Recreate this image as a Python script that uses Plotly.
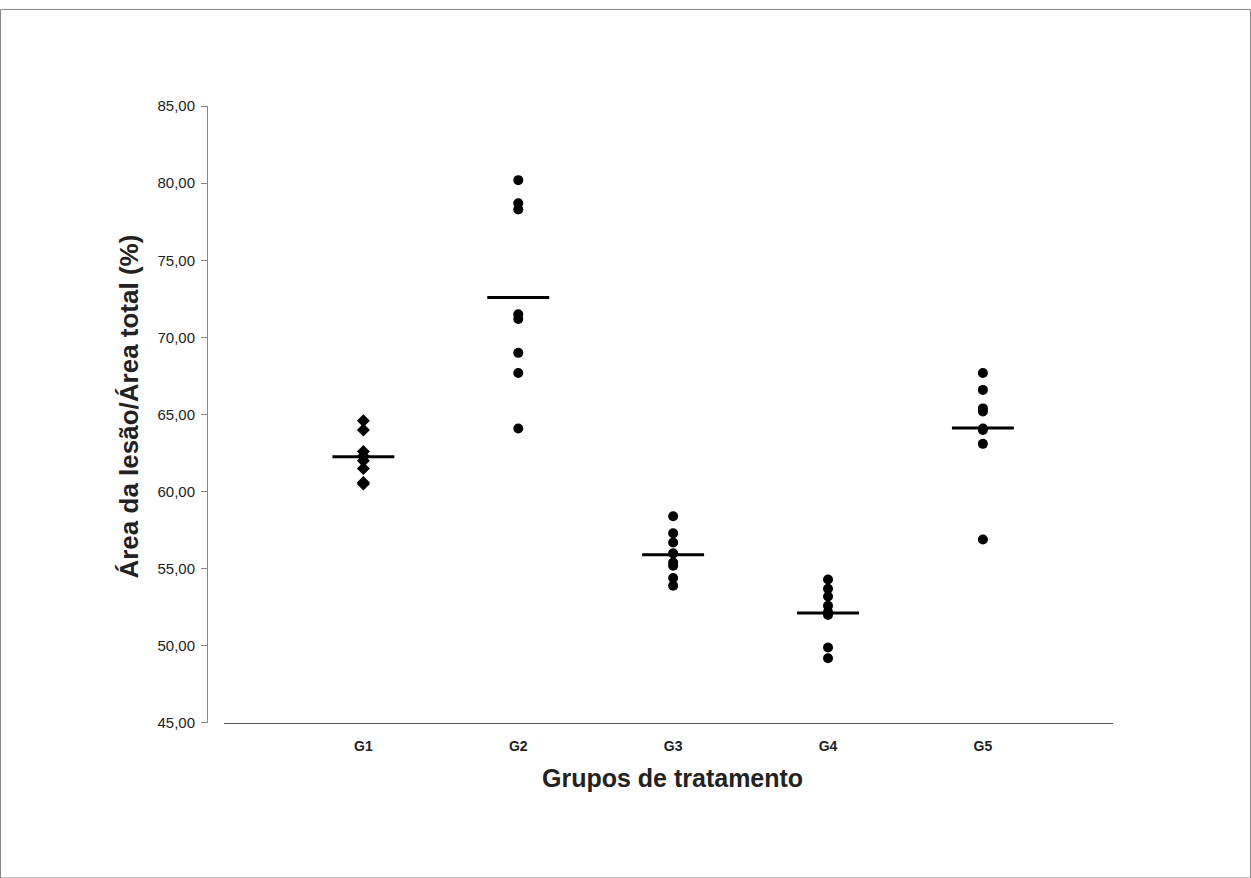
import numpy as np
import plotly.graph_objects as go

groups = ["G1", "G2", "G3", "G4", "G5"]
g1 = [64.6, 64.0, 62.6, 62.3, 62.0, 61.5, 60.6, 60.5]
g2 = [80.2, 78.7, 78.3, 71.5, 71.2, 69.0, 67.7, 64.1]
g3 = [58.4, 57.3, 56.7, 56.0, 55.4, 55.2, 54.4, 53.9]
g4 = [54.3, 53.7, 53.2, 52.6, 52.2, 52.0, 49.9, 49.2]
g5 = [67.7, 66.6, 65.4, 65.2, 64.1, 64.0, 63.1, 56.9]
series = [g1, g2, g3, g4, g5]
symbols = ["diamond", "circle", "circle", "circle", "circle"]
y_ticks = [45, 50, 55, 60, 65, 70, 75, 80, 85]

W, H = 1251, 887


def fy(py):
    # vertical page pixel -> paper fraction (compensates for capture offset)
    p = (py - 9) / 0.9795
    return 1 - p / H


fig = go.Figure()

for i, (vals, sym) in enumerate(zip(series, symbols)):
    xpos = i + 1
    fig.add_trace(go.Scatter(
        x=[xpos] * len(vals), y=vals, mode="markers",
        marker=dict(symbol=sym, color="black", size=10),
        showlegend=False, hoverinfo="y"))
    m = float(np.mean(vals))
    fig.add_trace(go.Scatter(
        x=[xpos - 0.2, xpos + 0.2], y=[m, m], mode="lines",
        line=dict(color="black", width=3), showlegend=False, hoverinfo="skip"))

x0, x1 = 224 / W, 1113 / W
y0, y1 = fy(722), fy(106)

fig.update_layout(
    width=W, height=H,
    margin=dict(l=0, r=0, t=0, b=0),
    paper_bgcolor="white", plot_bgcolor="white",
    separators=",.",
    font=dict(family="Liberation Sans, Arial, sans-serif", color="#222"),
    xaxis=dict(
        domain=[x0, x1], range=[0.1, 5.84],
        tickmode="array", tickvals=[1, 2, 3, 4, 5],
        ticktext=["<b>%s</b>" % g for g in groups],
        tickfont=dict(size=14, color="#222"),
        showgrid=False, zeroline=False,
        showline=True, linecolor="#555", linewidth=1,
        ticks="outside", ticklen=10, tickcolor="rgba(0,0,0,0)", anchor="y"),
    yaxis=dict(
        domain=[y0, y1], range=[45, 85],
        tickmode="array", tickvals=y_ticks, tickformat=".2f",
        tickfont=dict(size=15, color="#222"),
        showgrid=False, zeroline=False,
        showline=True, linecolor="#888", linewidth=1,
        ticks="outside", ticklen=6, tickcolor="#888",
        ticklabelstandoff=3,
        anchor="free", position=207 / W),
    annotations=[
        dict(text="<b>Grupos de tratamento</b>", xref="paper", yref="paper",
             x=672 / W, y=fy(777), showarrow=False,
             font=dict(size=25, color="#222"),
             xanchor="center", yanchor="middle"),
        dict(text="<b>Área da lesão/Área total (%)</b>", xref="paper", yref="paper",
             x=129 / W, y=fy(406), showarrow=False, textangle=-90,
             font=dict(size=26, color="#222"),
             xanchor="center", yanchor="middle"),
    ],
    shapes=[
        dict(type="rect", xref="paper", yref="paper", x0=0.0004, y0=1 - 886 / H,
             x1=0.9996, y1=0.9995, line=dict(color="#888", width=1)),
    ],
)

fig.write_html(
    "out.html",
    config={"displayModeBar": False},
    post_script=(
        "document.body.style.margin='0px';"
        "document.body.style.overflow='hidden';"
        "document.documentElement.style.overflow='hidden';"
    ),
)
